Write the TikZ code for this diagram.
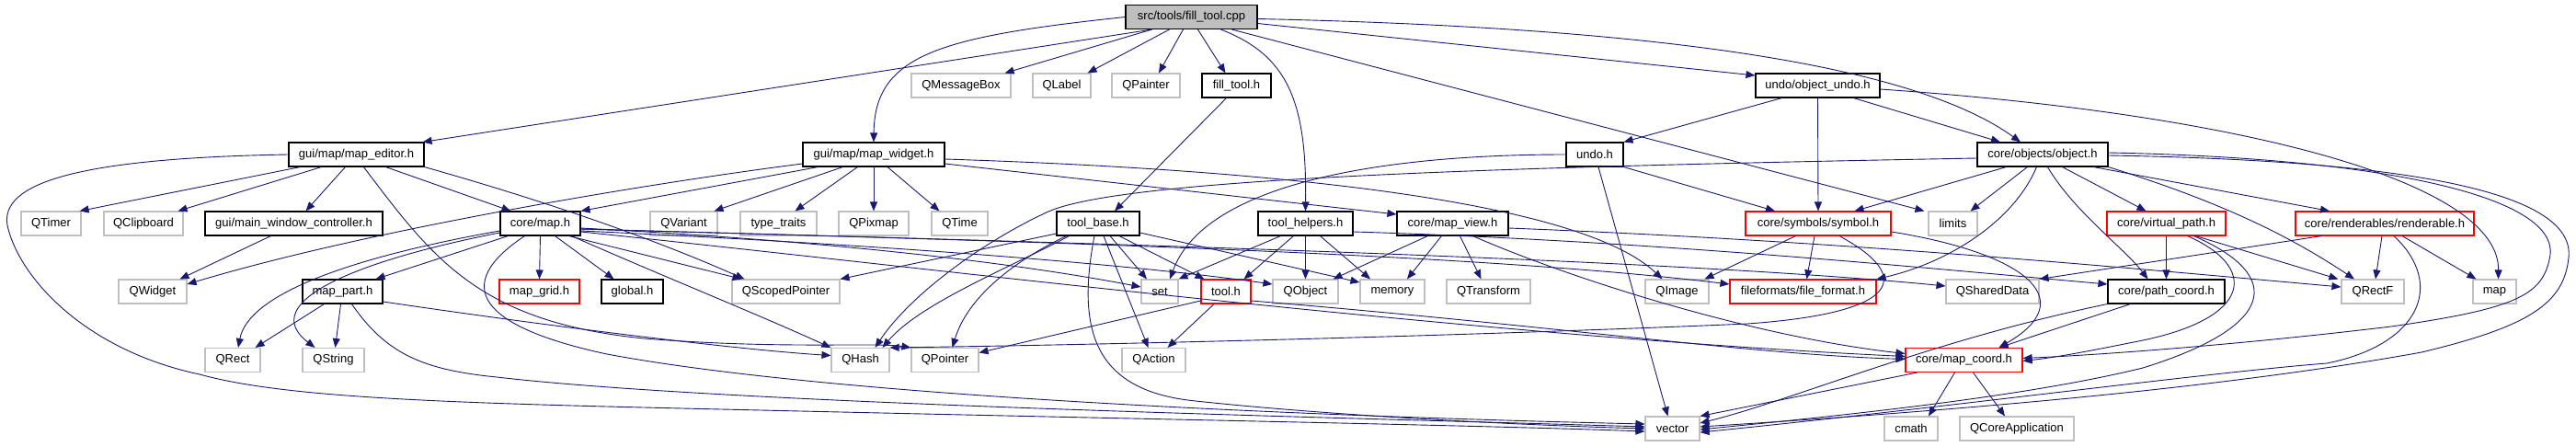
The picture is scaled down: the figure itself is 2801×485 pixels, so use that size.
\documentclass[tikz,border=0pt]{standalone}
\usepackage{fontspec}
\setmainfont{Liberation Sans}
\usetikzlibrary{arrows.meta}
\definecolor{edgec}{HTML}{191970}
\definecolor{extc}{HTML}{BFBFBF}
\definecolor{rootfill}{HTML}{BFBFBF}
\definecolor{trunc}{HTML}{FF0000}
\tikzset{
  box/.style={rectangle, inner sep=0pt, minimum height=26pt, line width=1.1pt, font=\fontsize{13}{15}\selectfont, text=black},
  doc/.style={box, draw=black},
  ext/.style={box, draw=extc},
  red/.style={box, draw=trunc},
  root/.style={box, draw=black, fill=rootfill},
  e/.style={draw=edgec, line width=0.9pt, -{Triangle[length=10pt,width=8pt]}, fill=none}
}
\begin{document}
\begin{tikzpicture}[x=1pt,y=-1pt]
\useasboundingbox (0,0) rectangle (2801,485);
% row 0
\node[root, minimum width=143pt] (cpp) at (1295.5,18.5) {src/tools/fill\_tool.cpp};
% row 1
\node[ext, minimum width=108pt] (qmb) at (1045,93) {QMessageBox};
\node[ext, minimum width=63pt] (qlabel) at (1154.5,93) {QLabel};
\node[ext, minimum width=74pt] (qpainter) at (1246,93) {QPainter};
\node[doc, minimum width=75pt] (fth) at (1344.5,93) {fill\_tool.h};
\node[doc, minimum width=135pt] (oundo) at (1976.5,93) {undo/object\_undo.h};
% row 2
\node[doc, minimum width=147pt] (med) at (387.5,168) {gui/map/map\_editor.h};
\node[doc, minimum width=154pt] (mwid) at (950,168) {gui/map/map\_widget.h};
\node[doc, minimum width=62pt] (undo) at (1734,168) {undo.h};
\node[doc, minimum width=142pt] (obj) at (2221,168) {core/objects/object.h};
% row 3
\node[ext, minimum width=65pt] (qtimer) at (55.5,243) {QTimer};
\node[ext, minimum width=86pt] (qclip) at (156,243) {QClipboard};
\node[doc, minimum width=193pt] (mwc) at (319.5,243) {gui/main\_window\_controller.h};
\node[doc, minimum width=87pt] (cmap) at (587.5,243) {core/map.h};
\node[ext, minimum width=73pt] (qvar) at (743.5,243) {QVariant};
\node[ext, minimum width=83pt] (ttraits) at (846.5,243) {type\_traits};
\node[ext, minimum width=76pt] (qpix) at (950,243) {QPixmap};
\node[ext, minimum width=61pt] (qtime) at (1043.5,243) {QTime};
\node[doc, minimum width=90pt] (tbase) at (1194,243) {tool\_base.h};
\node[doc, minimum width=103pt] (thelp) at (1419.5,243) {tool\_helpers.h};
\node[doc, minimum width=121pt] (mview) at (1579.5,243) {core/map\_view.h};
\node[red, minimum width=158pt] (symbol) at (1977,243) {core/symbols/symbol.h};
\node[ext, minimum width=53pt] (limits) at (2123.5,243) {limits};
\node[red, minimum width=129pt] (vpath) at (2355.5,243) {core/virtual\_path.h};
\node[red, minimum width=194pt] (rend) at (2593,243) {core/renderables/renderable.h};
% row 4
\node[ext, minimum width=74pt] (qwidget) at (166,317) {QWidget};
\node[doc, minimum width=87pt] (mpart) at (372.5,317) {map\_part.h};
\node[red, minimum width=87pt] (mgrid) at (586.5,317) {map\_grid.h};
\node[doc, minimum width=67pt] (global) at (687.5,317) {global.h};
\node[ext, minimum width=117pt] (qsp) at (854.5,317) {QScopedPointer};
\node[ext, minimum width=40pt] (set) at (1261,317) {set};
\node[red, minimum width=54pt] (toolh) at (1333,317) {tool.h};
\node[ext, minimum width=71pt] (qobj) at (1419.5,317) {QObject};
\node[ext, minimum width=70pt] (memory) at (1514,317) {memory};
\node[ext, minimum width=91pt] (qtrans) at (1618.5,317) {QTransform};
\node[ext, minimum width=69pt] (qimage) at (1823.5,317) {QImage};
\node[red, minimum width=159pt] (ffmt) at (1960.5,317) {fileformats/file\_format.h};
\node[ext, minimum width=101pt] (qsd) at (2166.5,317) {QSharedData};
\node[doc, minimum width=127pt] (pcoord) at (2355.5,317) {core/path\_coord.h};
\node[ext, minimum width=68pt] (qrectf) at (2580,317) {QRectF};
\node[ext, minimum width=47pt] (map) at (2712.5,317) {map};
% row 5
\node[ext, minimum width=60pt] (qrect) at (253,391.5) {QRect};
\node[ext, minimum width=67pt] (qstring) at (362.5,391.5) {QString};
\node[ext, minimum width=63pt] (qhash) at (935.5,391.5) {QHash};
\node[ext, minimum width=73pt] (qptr) at (1027.5,391.5) {QPointer};
\node[ext, minimum width=69pt] (qaction) at (1254.5,391.5) {QAction};
\node[red, minimum width=127pt] (mcoord) at (2135.5,391.5) {core/map\_coord.h};
% row 6
\node[ext, minimum width=59pt] (vector) at (1818.5,466) {vector};
\node[ext, minimum width=58pt] (cmath) at (2078,466) {cmath};
\node[ext, minimum width=124pt] (qca) at (2193,466) {QCoreApplication};

% fill_tool.cpp
\draw[e] ([xshift=29pt]cpp.south west) -- ([xshift=-2pt]med.north east);
\draw[e] (cpp.west) .. controls (1020,40) and (951,60) .. (mwid.north);
\draw[e] ([xshift=29pt]cpp.south west) -- ([xshift=-7pt]qmb.north east);
\draw[e] ([xshift=48pt]cpp.south west) -- ([xshift=-4pt]qlabel.north east);
\draw[e] ([xshift=63pt]cpp.south west) -- ([xshift=14pt]qpainter.north);
\draw[e] ([xshift=79pt]cpp.south west) -- ([xshift=-12pt]fth.north);
\draw[e] ([xshift=104pt]cpp.south west) .. controls (1400,60) and (1421,110) .. (thelp.north);
\draw[e] ([xshift=116pt]cpp.south west) -- ([xshift=-4pt]limits.north west);
\draw[e] ([yshift=-7pt]cpp.east) -- ([yshift=11pt]oundo.west);
\draw[e] ([yshift=-2pt]cpp.east) .. controls (1800,30) and (2080,70) .. ([xshift=-24pt]obj.north);
% map_editor.h
\draw[e] ([xshift=13pt]med.south west) -- ([xshift=-2pt]qtimer.north east);
\draw[e] ([xshift=36pt]med.south west) -- ([xshift=-6pt]qclip.north east);
\draw[e] ([xshift=62pt]med.south west) -- ([xshift=13pt]mwc.north);
\draw[e] ([xshift=106pt]med.south west) -- ([xshift=-32pt]cmap.north);
\draw[e] (med.south east) .. controls (580,215) and (700,255) .. ([xshift=-45pt]qsp.north);
\draw[e] (med.west) .. controls (80,172) and (0,200) .. (8,245) .. controls (20,300) and (90,380) .. (217,407) .. controls (300,430) and (450,437) .. (700,443) .. controls (1200,455) and (1600,462) .. ([yshift=-3pt]vector.west);
\draw[e] ([xshift=82pt]med.south west) .. controls (470,280) and (520,350) .. (700,368) .. controls (850,380) and (950,372) .. (qptr.north west);
% core/map.h
\draw[e] ([yshift=-8pt]cmap.west) .. controls (380,280) and (270,320) .. ([xshift=6pt]qrect.north);
\draw[e] ([yshift=-10pt]cmap.west) .. controls (380,285) and (280,330) .. ([xshift=-20pt]qstring.north);
\draw[e] ([xshift=9pt]cmap.south west) -- ([xshift=-8pt]mpart.north east);
\draw[e] (cmap.south) -- (mgrid.north);
\draw[e] ([xshift=16pt]cmap.south) -- ([xshift=-20pt]global.north);
\draw[e] ([xshift=31pt]cmap.south) -- ([xshift=-48pt]qsp.north);
\draw[e] ([xshift=34pt]cmap.south) .. controls (720,300) and (820,340) .. (qhash.north west);
\draw[e] ([xshift=-17pt]cmap.south) .. controls (490,310) and (520,355) .. (660,385) .. controls (900,430) and (1400,452) .. ([yshift=5pt]vector.west);
\draw[e] ([yshift=-5pt]cmap.east) .. controls (900,262) and (1100,285) .. ([yshift=5pt]set.west);
\draw[e] ([yshift=-8pt]cmap.east) .. controls (1000,268) and (1250,290) .. ([yshift=8pt]qobj.west);
\draw[e] ([yshift=-6pt]cmap.east) .. controls (1100,262) and (1600,275) .. ([yshift=8pt]ffmt.west);
\draw[e] ([yshift=-6pt]cmap.east) .. controls (1100,262) and (1800,280) .. ([yshift=6pt]qsd.west);
\draw[e] ([yshift=-9pt]cmap.east) .. controls (1000,290) and (1600,365) .. ([yshift=4pt]mcoord.west);
% map_widget.h
\draw[e] ([yshift=-10pt]mwid.west) .. controls (700,200) and (400,250) .. ([yshift=8pt]qwidget.east);
\draw[e] ([xshift=17pt]mwid.south west) -- (cmap.north east);
\draw[e] ([xshift=44pt]mwid.south west) -- ([xshift=-4pt]qvar.north east);
\draw[e] ([xshift=60pt]mwid.south west) -- ([xshift=18pt]ttraits.north);
\draw[e] (mwid.south) -- (qpix.north);
\draw[e] ([xshift=15pt]mwid.south) -- ([xshift=-22pt]qtime.north);
\draw[e] ([yshift=-5pt]mwid.east) .. controls (1400,185) and (1720,220) .. ([xshift=-16pt]qimage.north);
\draw[e] ([yshift=-10pt]mwid.east) -- ([yshift=10pt]mview.west);
% fill_tool.h, main_window_controller.h
\draw[e] ([xshift=-11pt]fth.south) -- ([xshift=18pt]tbase.north);
\draw[e] ([xshift=-25pt]mwc.south) -- ([xshift=-8pt]qwidget.north east);
% tool_base.h
\draw[e] ([yshift=-11pt]tbase.west) -- (qsp.north east);
\draw[e] ([xshift=14pt]tbase.south west) .. controls (1100,290) and (1000,330) .. ([xshift=-8pt]qhash.north east);
\draw[e] ([xshift=11pt]tbase.south west) .. controls (1090,290) and (1050,330) .. ([xshift=8pt]qptr.north);
\draw[e] ([xshift=-4pt]tbase.south) .. controls (1170,360) and (1190,425) .. (1300,436) .. controls (1450,452) and (1650,462) .. (vector.west);
\draw[e] ([xshift=6pt]tbase.south) -- ([xshift=-6pt]qaction.north);
\draw[e] ([xshift=13pt]tbase.south) -- ([xshift=-14pt]set.north);
\draw[e] ([xshift=23pt]tbase.south) -- ([xshift=4pt]toolh.north west);
\draw[e] ([yshift=-10pt]tbase.east) -- ([yshift=10pt]memory.west);
% tool_helpers.h
\draw[e] ([xshift=25pt]thelp.south west) -- (set.north east);
\draw[e] ([xshift=39pt]thelp.south west) -- ([xshift=-8pt]toolh.north east);
\draw[e] (thelp.south) -- (qobj.north);
\draw[e] ([xshift=16pt]thelp.south) -- ([xshift=-24pt]memory.north);
\draw[e] ([yshift=-9pt]thelp.east) .. controls (1800,262) and (2100,292) .. ([yshift=8pt]pcoord.west);
% tool.h
\draw[e] ([yshift=-10pt]toolh.west) -- ([yshift=8pt]qptr.east);
\draw[e] ([xshift=-13pt]toolh.south) -- ([xshift=15pt]qaction.north);
\draw[e] ([yshift=-10pt]toolh.east) .. controls (1700,355) and (1900,385) .. ([yshift=1pt]mcoord.west);
% core/map_view.h
\draw[e] ([xshift=34pt]mview.south west) -- ([xshift=-6pt]qobj.north east);
\draw[e] ([xshift=49pt]mview.south west) -- ([xshift=16pt]memory.north);
\draw[e] ([xshift=8pt]mview.south) -- ([xshift=-8pt]qtrans.north);
\draw[e] ([xshift=22pt]mview.south) .. controls (1700,300) and (1900,365) .. ([yshift=7pt]mcoord.west);
\draw[e] ([yshift=-5pt]mview.east) .. controls (2000,262) and (2300,290) .. ([yshift=5pt]qrectf.west);
% undo.h
\draw[e] (undo.west) .. controls (1500,168) and (1310,200) .. ([xshift=11pt]set.north);
\draw[e] ([xshift=4pt]undo.south) -- ([xshift=-5pt]vector.north);
\draw[e] (undo.south east) -- ([xshift=-47pt]symbol.north);
% undo/object_undo.h
\draw[e] ([xshift=29pt]oundo.south west) -- (undo.north east);
\draw[e] (oundo.south) -- (symbol.north);
\draw[e] ([xshift=107pt]oundo.south west) -- ([xshift=-46pt]obj.north);
\draw[e] ([yshift=-4pt]oundo.east) .. controls (2450,125) and (2718,200) .. ([xshift=4pt]map.north);
% core/objects/object.h
\draw[e] ([yshift=-4pt]obj.west) .. controls (1600,182) and (1220,195) .. (1140,230) .. controls (1070,262) and (990,320) .. ([xshift=-16pt]qhash.north east);
\draw[e] ([xshift=32pt]obj.south west) -- ([xshift=-40pt]symbol.north east);
\draw[e] ([xshift=55pt]obj.south west) -- ([xshift=-8pt]limits.north east);
\draw[e] ([xshift=65pt]obj.south west) .. controls (2190,240) and (2120,285) .. (ffmt.north east);
\draw[e] ([xshift=77pt]obj.south west) .. controls (2255,230) and (2310,270) .. ([xshift=-20pt]pcoord.north);
\draw[e] ([xshift=93pt]obj.south west) -- ([xshift=-22pt]vpath.north);
\draw[e] ([xshift=127pt]obj.south west) -- ([xshift=-60pt]rend.north);
\draw[e] (obj.south east) .. controls (2400,215) and (2480,250) .. ([xshift=-20pt]qrectf.north);
\draw[e] ([yshift=2pt]obj.east) .. controls (2600,172) and (2780,215) .. (2773,277) .. controls (2766,320) and (2740,335) .. (2600,355) .. controls (2450,373) and (2300,385) .. ([yshift=2pt]mcoord.east);
\draw[e] ([yshift=-1pt]obj.east) .. controls (2650,175) and (2800,215) .. (2793,280) .. controls (2788,330) and (2750,355) .. (2633,383) .. controls (2400,425) and (2100,448) .. ([yshift=2pt]vector.east);
% core/symbols/symbol.h
\draw[e] ([xshift=55pt]symbol.south west) -- ([xshift=-5pt]qimage.north east);
\draw[e] ([xshift=-4pt]symbol.south) -- ([xshift=4pt]ffmt.north);
\draw[e] ([xshift=23pt]symbol.south) .. controls (2080,300) and (2070,340) .. (1900,352) .. controls (1600,365) and (1200,375) .. (qhash.north east);
\draw[e] ([yshift=-9pt]symbol.east) .. controls (2200,275) and (2265,325) .. ([xshift=38pt]mcoord.north);
% core/virtual_path.h
\draw[e] (vpath.south) -- (pcoord.north);
\draw[e] ([xshift=32pt]vpath.south) -- ([xshift=-3pt]qrectf.north west);
\draw[e] ([xshift=23pt]vpath.south) .. controls (2455,290) and (2450,345) .. (2330,370) .. controls (2280,380) and (2240,388) .. ([yshift=-1pt]mcoord.east);
\draw[e] ([xshift=30pt]vpath.south) .. controls (2485,300) and (2475,355) .. (2330,400) .. controls (2200,432) and (2000,452) .. ([yshift=-1pt]vector.east);
% core/renderables/renderable.h
\draw[e] ([xshift=29pt]rend.south west) -- (qsd.north east);
\draw[e] ([xshift=-3pt]rend.south) -- ([xshift=3pt]qrectf.north);
\draw[e] ([xshift=19pt]rend.south) -- ([xshift=4pt]map.north west);
\draw[e] ([xshift=10pt]rend.south) .. controls (2660,310) and (2630,375) .. (2530,395) .. controls (2400,405) and (2100,445) .. ([yshift=-4pt]vector.east);
% core/path_coord.h
\draw[e] ([xshift=25pt]pcoord.south west) -- ([xshift=38pt]mcoord.north);
\draw[e] (pcoord.south west) .. controls (2100,370) and (1950,435) .. ([yshift=6pt]vector.east);
% core/map_coord.h
\draw[e] ([xshift=13pt]mcoord.south west) -- (vector.north east);
\draw[e] ([xshift=-10pt]mcoord.south) -- ([xshift=19pt]cmath.north);
\draw[e] ([xshift=10pt]mcoord.south) -- ([xshift=-13pt]qca.north);
% map_part.h
\draw[e] ([xshift=24pt]mpart.south west) -- ([xshift=-6pt]qrect.north east);
\draw[e] ([xshift=-2pt]mpart.south) -- ([xshift=2pt]qstring.north);
\draw[e] ([yshift=-11pt]mpart.east) .. controls (600,355) and (800,380) .. ([yshift=5pt]qhash.west);
\draw[e] ([xshift=54pt]mpart.south west) .. controls (420,385) and (460,402) .. (540,410) .. controls (800,440) and (1500,455) .. ([yshift=2pt]vector.west);
\end{tikzpicture}
\end{document}
